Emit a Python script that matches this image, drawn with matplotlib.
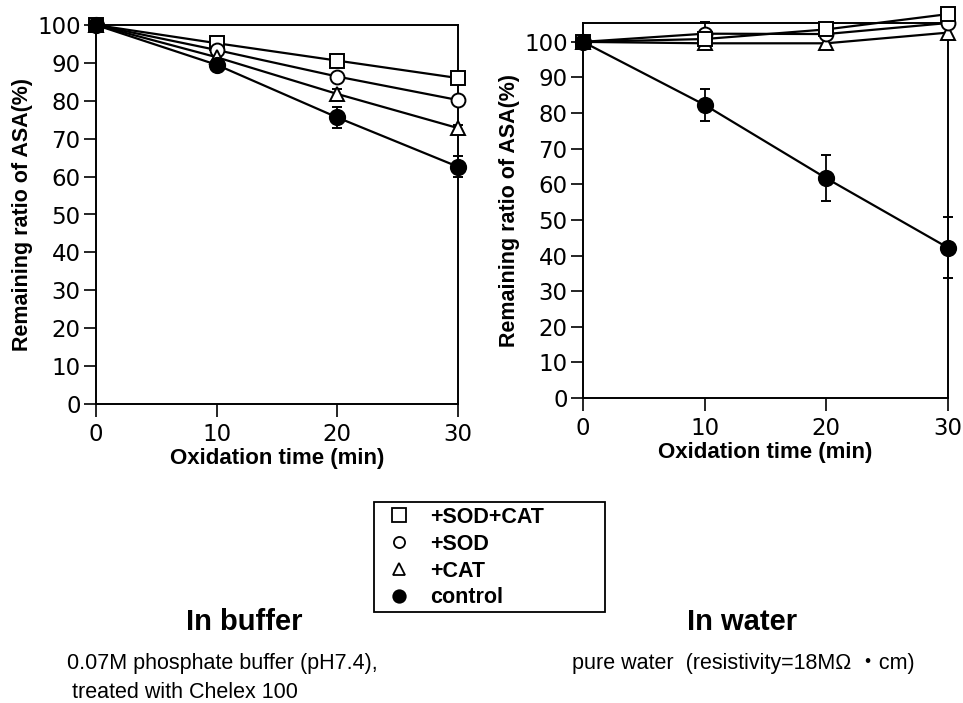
import matplotlib
matplotlib.use("Agg")
import matplotlib.pyplot as plt
from matplotlib.lines import Line2D
from matplotlib.patches import Rectangle

time = [0, 10, 20, 30]

# In buffer
buf_sodcat = [100, 95.2, 90.6, 86.0]
buf_sod = [100, 93.4, 86.4, 80.2]
buf_cat = [100, 91.5, 81.8, 72.8]
buf_ctrl = [100, 89.5, 75.6, 62.6]
buf_ctrl_err = [0, 0.6, 2.8, 2.8]
buf_cat_err = [0, 0.5, 1.3, 0.8]

# In water
wat_sodcat = [100, 100.8, 103.5, 107.8]
wat_sod = [100, 102.3, 102.2, 105.3]
wat_cat = [100, 99.6, 99.6, 102.6]
wat_ctrl = [100, 82.3, 61.7, 42.2]
wat_ctrl_err = [0, 4.5, 6.4, 8.5]
wat_sod_err = [0, 3.2, 1.5, 1.5]

labels = ["+SOD+CAT", "+SOD", "+CAT", "control"]
yticks = [0, 10, 20, 30, 40, 50, 60, 70, 80, 90, 100]
xticks = [0, 10, 20, 30]

W, H = 963, 703
plt.rcParams['font.family'] = ['DejaVu Sans']
fig = plt.figure(figsize=(W/100, H/100), dpi=100)

ax1 = fig.add_axes([96/W, 1-404/H, (458-96)/W, (404-25)/H])
ax2 = fig.add_axes([583/W, 1-398/H, (948-583)/W, (398-23)/H])

def style(ax, ymax):
    ax.set_xlim(0, 30)
    ax.set_ylim(0, ymax)
    ax.set_xticks(xticks)
    ax.set_yticks(yticks)
    ax.tick_params(direction='out', length=9, width=1.2, labelsize=16.5, pad=2)
    ax.tick_params(axis='x', pad=5)
    for s in ax.spines.values():
        s.set_linewidth(1.4)
    ax.set_ylabel("Remaining ratio of ASA(%)", fontsize=15.5, fontweight='bold',
                  family='Liberation Sans', labelpad=3)
    ax.set_xlabel("Oxidation time (min)", fontsize=16, fontweight='bold',
                  family='Liberation Sans', labelpad=1)

lw = 1.6
ms = 10
cap = 3.5

def series(ax, y, marker, fill, err=None, z=3, m=ms):
    ax.errorbar(time, y, yerr=err, color='black', lw=lw, marker=marker, ms=m,
                mfc=fill, mec='black', mew=1.4, capsize=cap, elinewidth=1.3,
                capthick=1.3, clip_on=False, zorder=z)

series(ax1, buf_sodcat, 's', 'white', m=9.5)
series(ax1, buf_sod, 'o', 'white')
series(ax1, buf_cat, '^', 'white', buf_cat_err)
series(ax1, buf_ctrl, 'o', 'black', buf_ctrl_err, z=4, m=11)
style(ax1, 100)

series(ax2, wat_ctrl, 'o', 'black', wat_ctrl_err, z=4, m=11)
series(ax2, wat_cat, '^', 'white')
series(ax2, wat_sod, 'o', 'white', wat_sod_err)
series(ax2, wat_sodcat, 's', 'white', m=9.5)
style(ax2, 105.3)

handles = [
    Line2D([], [], ls='none', marker='s', ms=9.5, mfc='white', mec='black', mew=1.3),
    Line2D([], [], ls='none', marker='o', ms=8, mfc='white', mec='black', mew=1.3),
    Line2D([], [], ls='none', marker='^', ms=8, mfc='white', mec='black', mew=1.3),
    Line2D([], [], ls='none', marker='o', ms=9, mfc='black', mec='black', mew=1.3),
]
leg = fig.legend(handles, labels, loc='upper left',
                 bbox_to_anchor=(389/W, 1-507/H), frameon=False,
                 prop={'family': 'Liberation Sans', 'weight': 'bold', 'size': 15.5},
                 handlelength=0.95, handletextpad=0.95, borderpad=0,
                 labelspacing=0.27, borderaxespad=0)
fig.add_artist(Rectangle((374/W, 1-612/H), (605-374)/W, (612-502)/H,
                         transform=fig.transFigure, fill=False, lw=1.3,
                         edgecolor='black'))

fig.text(244/W, 1-622/H, "In buffer", ha='center', va='center',
         fontsize=21, fontweight='bold', family='Liberation Sans')
fig.text(742/W, 1-622/H, "In water", ha='center', va='center',
         fontsize=21, fontweight='bold', family='Liberation Sans')
fig.text(67/W, 1-663/H, "0.07M phosphate buffer (pH7.4),", ha='left', va='center',
         fontsize=15.5, family='Liberation Sans')
fig.text(72/W, 1-692/H, "treated with Chelex 100", ha='left', va='center',
         fontsize=15.5, family='Liberation Sans')
fig.text(572/W, 1-663/H, "pure water  (resistivity=18M\u03a9 \u30fbcm)", ha='left',
         va='center', fontsize=15.5, family=['Liberation Sans', 'Noto Sans CJK JP'])

fig.savefig("out.png", dpi=100)
